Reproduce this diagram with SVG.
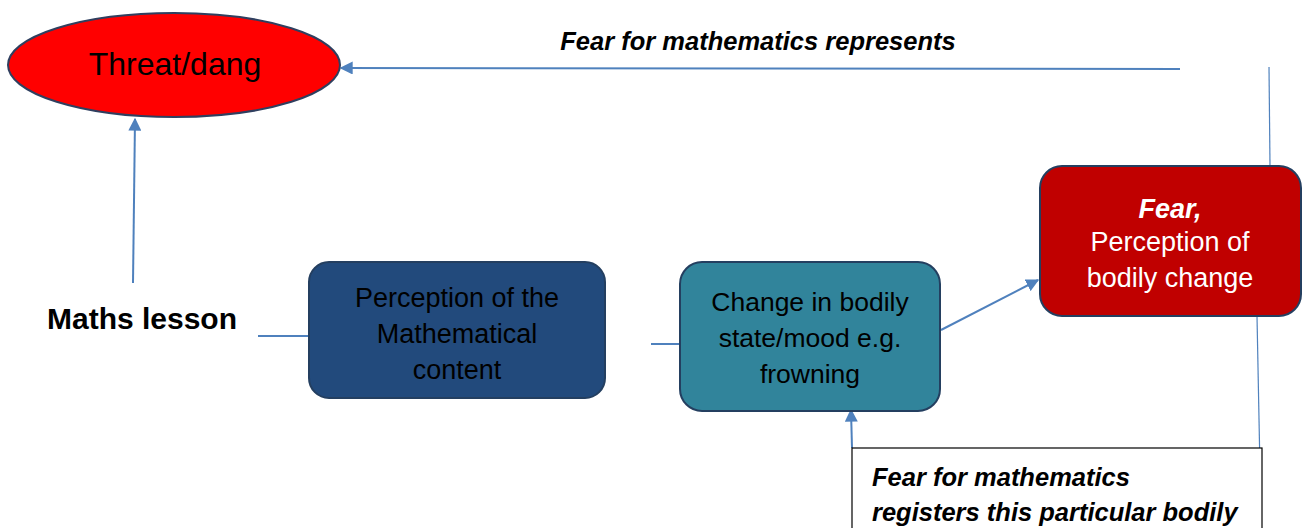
<svg xmlns="http://www.w3.org/2000/svg" width="1303" height="528" viewBox="0 0 1303 528">
<defs>
<style>
.t{font-family:"Liberation Sans",Arial,sans-serif;}
.bi{font-family:"Liberation Sans",Arial,sans-serif;font-weight:bold;font-style:italic;}
.conn{stroke:#4F81BD;stroke-width:2;fill:none;}
.thin{stroke:#4F81BD;stroke-width:1.2;fill:none;}
.box{stroke:#243F60;stroke-width:2;}
</style>
<marker id="ah" viewBox="0 0 10 10" refX="9" refY="5" markerWidth="6.5" markerHeight="6.5" orient="auto" markerUnits="strokeWidth">
<path d="M0,0 L10,5 L0,10 z" fill="#4F81BD"/>
</marker>
</defs>
<rect width="1303" height="528" fill="#fff"/>
<g id="connectors">
<line class="conn" x1="1180" y1="69" x2="341" y2="68" marker-end="url(#ah)"/>
<line class="conn" x1="133" y1="283" x2="135" y2="119" marker-end="url(#ah)"/>
<line class="conn" x1="258" y1="336" x2="310" y2="336"/>
<line class="conn" x1="651" y1="344" x2="680" y2="344"/>
<line class="conn" x1="941" y1="330" x2="1038" y2="280" marker-end="url(#ah)"/>
<line class="conn" x1="852" y1="448" x2="851" y2="410" marker-end="url(#ah)"/>
<line class="thin" x1="1269" y1="67" x2="1270" y2="166"/>
<line class="thin" x1="1257" y1="316" x2="1260" y2="470"/>
</g>
<g id="label-represents">
<text class="bi" x="758" y="50" font-size="25.5" text-anchor="middle">Fear for mathematics represents</text>
</g>
<g id="threat">
<ellipse cx="174" cy="65" rx="166" ry="52" fill="#FF0000" stroke="#2F3F5F" stroke-width="2"/>
<text class="t" x="175" y="75" font-size="32" text-anchor="middle" fill="#000">Threat/dang</text>
</g>
<g id="maths-lesson">
<text class="t" x="142" y="329" font-size="30" font-weight="bold" text-anchor="middle">Maths lesson</text>
</g>
<g id="perception">
<rect class="box" x="309" y="262" width="296" height="136" rx="20" fill="#224A7C"/>
<text class="t" font-size="27" text-anchor="middle" fill="#000"><tspan x="457" y="307">Perception of the</tspan><tspan x="457" y="343">Mathematical</tspan><tspan x="457" y="379">content</tspan></text>
</g>
<g id="change">
<rect class="box" x="680" y="262" width="260" height="149" rx="22" fill="#31849B"/>
<text class="t" font-size="26.5" text-anchor="middle" fill="#000"><tspan x="810" y="311">Change in bodily</tspan><tspan x="810" y="347">state/mood e.g.</tspan><tspan x="810" y="383">frowning</tspan></text>
</g>
<g id="fear">
<rect class="box" x="1040" y="166" width="261" height="150" rx="22" fill="#C00000"/>
<text class="bi" x="1170" y="218" font-size="27" text-anchor="middle" fill="#fff">Fear,</text>
<text class="t" font-size="27" text-anchor="middle" fill="#fff"><tspan x="1170" y="251">Perception of</tspan><tspan x="1170" y="287">bodily change</tspan></text>
</g>
<g id="registers">
<rect x="852" y="448" width="410" height="100" fill="#fff" stroke="#000" stroke-width="1.2"/>
<text class="bi" font-size="25.5"><tspan x="872" y="486">Fear for mathematics</tspan><tspan x="872" y="521">registers this particular bodily</tspan></text>
</g>
</svg>
